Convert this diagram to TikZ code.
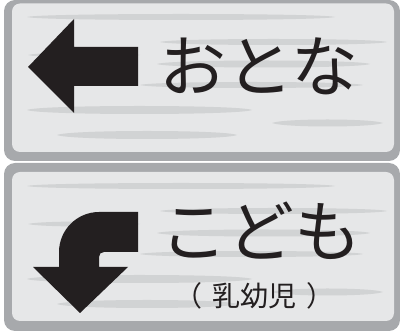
\documentclass[tikz,border=0pt]{standalone}
\usepackage{fontspec}
\newfontfamily\jp{Noto Sans CJK JP}
\definecolor{rim}{HTML}{A7A9AC}
\definecolor{panel}{HTML}{E6E7E8}
\definecolor{streakc}{HTML}{D1D3D4}
\definecolor{ink}{HTML}{231F20}
\tikzset{
  signouter/.style={fill=rim, rounded corners=11pt},
  signinner/.style={fill=panel, rounded corners=8pt},
  arrowshape/.style={fill=ink},
  bigtext/.style={inner sep=0pt, text=ink, font=\jp\fontsize{67}{67}\selectfont},
  smalltext/.style={inner sep=0pt, text=ink, font=\jp\fontsize{28}{28}\selectfont},
}
\newcommand{\streak}[4]{% x1, x2, y, thickness
  \fill[streakc] (#1,#3) .. controls ({#1+12},{#3-#4*0.667}) and ({#2-12},{#3-#4*0.667}) .. (#2,#3)
    .. controls ({#2-12},{#3+#4*0.667}) and ({#1+12},{#3+#4*0.667}) .. cycle;}
\newcommand{\streaks}{%
  \streak{27}{335}{17}{6}
  \streak{160}{387}{42}{6}
  \streak{28}{140}{55}{5}
  \streak{157}{370}{64}{7}
  \streak{140}{363}{85}{6}
  \streak{27}{252}{110}{8}
  \streak{272}{383}{123}{7}
  \streak{57}{237}{135}{8}}
\begin{document}
\begin{tikzpicture}[x=1pt,y=-1pt]
\useasboundingbox (0,0) rectangle (400,331);
% top sign
\fill[signouter] (4,0) rectangle (400,161);
\fill[signinner] (12,3.5) rectangle (394,152);
\begin{scope}
  \clip[rounded corners=8pt] (12,3.5) rectangle (394,152);
  \streaks
\end{scope}
\fill[arrowshape] (28,67) -- (74,19) -- (74,47) -- (138,47) -- (138,86) -- (74,86) -- (74,113) -- cycle;
\node[bigtext] (adult) at (258.5,66) {おとな};
% bottom sign
\fill[signouter] (4,163) rectangle (400,331);
\fill[signinner] (12,172) rectangle (394,321);
\begin{scope}[yshift=-169pt]
  \clip[rounded corners=8pt] (12,3) rectangle (394,152);
  \streaks
\end{scope}
\fill[arrowshape] (33,267) -- (59,267) -- (59,252) .. controls (59,230) and (77,212) .. (99,212)
  -- (138,212) -- (138,252) -- (104,252) .. controls (101,252) and (99,254) .. (99,257)
  -- (99,267) -- (128,267) -- (80,313) -- cycle;
\node[bigtext] (child) at (261,231) {こども};
\node[smalltext] (infant) at (255,296) {（\kern10pt 乳幼児\kern10pt ）};
\end{tikzpicture}
\end{document}
